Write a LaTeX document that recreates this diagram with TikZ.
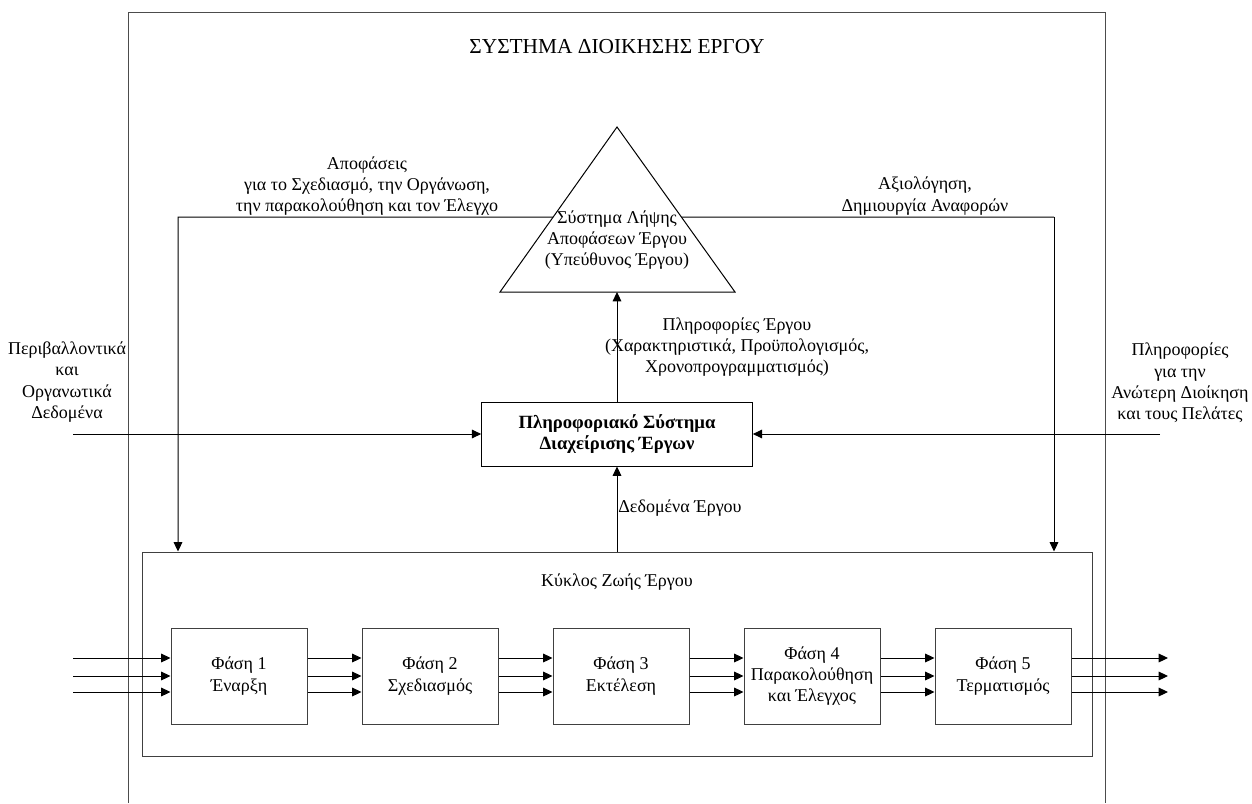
\documentclass[tikz,border=0pt]{standalone}
\usepackage{fontspec}
\setmainfont{Liberation Serif}
\usetikzlibrary{arrows.meta,calc}
\begin{document}
\begin{tikzpicture}[x=0.75pt,y=-0.75pt,
  font=\fontsize{13.5}{16}\selectfont,
  line width=0.75pt,
  flow/.style={-{Triangle[length=7pt,width=6.5pt]}},
  frameline/.style={draw=black!70},
  stagebox/.style={draw=black!75, minimum width=102pt, minimum height=72pt, align=center, inner sep=1pt},
  textlabel/.style={align=center, inner sep=0pt},
]
\useasboundingbox (0,0) rectangle (1252,803);

% outer frame of the project management system (open at the bottom)
\draw[frameline] (128,803) -- (128,12) -- (1105,12) -- (1105,803);
\node[textlabel, font=\fontsize{16}{18}\selectfont] (title) at (617,47) {ΣΥΣΤΗΜΑ ΔΙΟΙΚΗΣΗΣ ΕΡΓΟΥ};

% decision making triangle
\coordinate (apex) at (617,127);
\coordinate (bl) at (500,292);
\coordinate (br) at (735,292);
\draw (apex) -- (bl) -- (br) -- cycle;
\node[textlabel] (dm) at (617,240) {Σύστημα Λήψης\\Αποφάσεων Έργου\\(Υπεύθυνος Έργου)};

% information system box
\node[draw, minimum width=203pt, minimum height=48pt, align=center,
      font=\fontsize{14}{16}\selectfont\bfseries] (is) at (617,434)
      {Πληροφοριακό Σύστημα\\Διαχείρισης Έργων};

% project life cycle
\node[draw=black!75, minimum width=713pt, minimum height=153pt] (lc) at (617.5,654) {};
\node[textlabel] (lct) at (617,582) {Κύκλος Ζωής Έργου};

\node[stagebox] (p1) at (239,676) {Φάση 1\\Έναρξη};
\node[stagebox] (p2) at (430,676) {Φάση 2\\Σχεδιασμός};
\node[stagebox] (p3) at (621,676) {Φάση 3\\Εκτέλεση};
\node[stagebox] (p4) at (812,676) {Φάση 4\\Παρακολούθηση\\και Έλεγχος};
\node[stagebox] (p5) at (1003,676) {Φάση 5\\Τερματισμός};

% triple flows between phases
\foreach \a/\b in {p1/p2,p2/p3,p3/p4,p4/p5}{
  \foreach \s in {13.5pt,0pt,-12pt}{
    \draw[flow] ([yshift=\s]\a.east) -- ([yshift=\s]\b.west);
  }
}
\coordinate (inA) at (73,658);
\coordinate (inB) at (73,676);
\coordinate (inC) at (73,692);
\coordinate (outA) at (1168,658);
\coordinate (outB) at (1168,676);
\coordinate (outC) at (1168,692);
\foreach \c in {A,B,C}{
  \draw[flow] (in\c) -- (in\c -| p1.west);
  \draw[flow] (out\c -| p5.east) -- (out\c);
}

% decisions and reports
\coordinate (dl) at ($(apex)!0.5455!(bl)$);
\coordinate (dr) at ($(apex)!0.5455!(br)$);
\coordinate (leftrail) at (178,217);
\coordinate (rightrail) at (1054,217);
\draw[flow] (dl) -- (leftrail) -- (leftrail |- lc.north);
\draw (dr) -- (rightrail);
\draw[flow] (rightrail) -- (rightrail |- lc.north);
\node[textlabel] (declbl) at (367,186) {Αποφάσεις\\για το Σχεδιασμό, την Οργάνωση,\\την παρακολούθηση και τον Έλεγχο};
\node[textlabel] (evallbl) at (925,196) {Αξιολόγηση,\\Δημιουργία Αναφορών};

% information flows
\draw[flow] (is.north) -- (is.north |- bl);
\node[textlabel] (infolbl) at (737,347) {Πληροφορίες Έργου\\(Χαρακτηριστικά, Προϋπολογισμός,\\Χρονοπρογραμματισμός)};
\draw[flow] (lc.north -| is.south) -- (is.south);
\node[textlabel] (datalbl) at (680,508) {Δεδομένα Έργου};

\coordinate (envin) at (73,434);
\coordinate (mgmt) at (1160,434);
\draw[flow] (envin) -- (is.west);
\draw[flow] (mgmt) -- (is.east);
\node[textlabel] (envlbl) at (67,382) {Περιβαλλοντικά\\και\\Οργανωτικά\\Δεδομένα};
\node[textlabel] (mgmtlbl) at (1180,383) {Πληροφορίες\\για την\\Ανώτερη Διοίκηση\\και τους Πελάτες};
\end{tikzpicture}
\end{document}
